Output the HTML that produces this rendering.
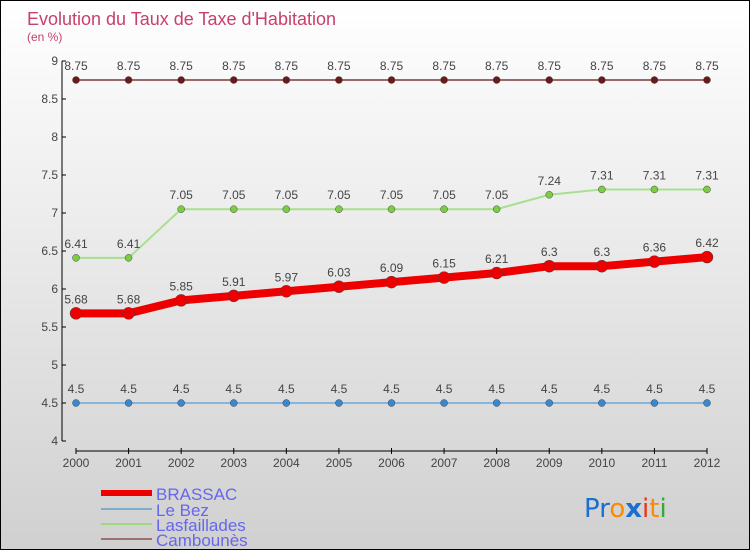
<!DOCTYPE html>
<html><head><meta charset="utf-8"><style>
html,body{margin:0;padding:0}
body{width:750px;height:550px;overflow:hidden;font-family:"Liberation Sans",sans-serif}
#wrap{position:relative;width:748px;height:548px;border:1px solid #000;background:linear-gradient(#ffffff,#d0d0d0)}
svg{position:absolute;left:0;top:0}
</style></head><body>
<div id="wrap">
<svg id="chart" width="750" height="550">
<text x="26" y="24" font-size="18" fill="#c8406a">Evolution du Taux de Taxe d'Habitation</text>
<text x="26" y="40" font-size="12" fill="#c8406a">(en %)</text>
<g id="axes"></g><g id="series"></g>
<g>
<rect x="100" y="489" width="51" height="6" fill="#e00"/>
<text x="155" y="499" font-size="17" fill="#6666ee">BRASSAC</text>
<rect x="100" y="507" width="51" height="2" fill="#7aaed0"/>
<text x="155" y="515" font-size="17" fill="#6666ee">Le Bez</text>
<rect x="100" y="522" width="51" height="2" fill="#a0d880"/>
<text x="155" y="530" font-size="17" fill="#6666ee">Lasfaillades</text>
<rect x="100" y="537" width="51" height="2" fill="#a07070"/>
<text x="155" y="545" font-size="17" fill="#6666ee">Cambounès</text>
</g>
<text x="583" y="516" font-size="26" font-family="DejaVu Sans,sans-serif"><tspan fill="#1a6fd0">Pr</tspan><tspan fill="#ff8800">o</tspan><tspan fill="#1a6fd0" font-weight="bold">x</tspan><tspan fill="#ee3311">i</tspan><tspan fill="#ff8800">t</tspan><tspan fill="#33aa33">i</tspan></text>
</svg>
</div>
<script>
const years=[2000,2001,2002,2003,2004,2005,2006,2007,2008,2009,2010,2011,2012];
const brassac=[5.68,5.68,5.85,5.91,5.97,6.03,6.09,6.15,6.21,6.3,6.3,6.36,6.42];
const leBez=[4.5,4.5,4.5,4.5,4.5,4.5,4.5,4.5,4.5,4.5,4.5,4.5,4.5];
const lasfaillades=[6.41,6.41,7.05,7.05,7.05,7.05,7.05,7.05,7.05,7.24,7.31,7.31,7.31];
const cambounes=[8.75,8.75,8.75,8.75,8.75,8.75,8.75,8.75,8.75,8.75,8.75,8.75,8.75];
const yTicks=[4,4.5,5,5.5,6,6.5,7,7.5,8,8.5,9];
const NS="http://www.w3.org/2000/svg";
const x=i=>75+i*(706-75)/(years.length-1);
const y=v=>440-(v-4)*76;
function mk(tag,attrs,parent,txt){const e=document.createElementNS(NS,tag);for(const k in attrs)e.setAttribute(k,attrs[k]);if(txt!==undefined)e.textContent=txt;parent.appendChild(e);return e;}
const ax=document.getElementById('axes'),sr=document.getElementById('series');
let e=mk('line',{x1:61,y1:60,x2:61,y2:440,stroke:'#000'},ax);


e=mk('line',{x1:75,y1:450,x2:706,y2:450,stroke:'#000'},ax);


yTicks.forEach(t=>{mk('line',{x1:61,y1:y(t),x2:65,y2:y(t),stroke:'#000'},ax);
e=mk('text',{x:57,y:y(t)+4,'font-size':12,fill:'#444','text-anchor':'end'},ax,String(t));

});
years.forEach((yr,i)=>{mk('line',{x1:x(i),y1:447,x2:x(i),y2:453,stroke:'#000'},ax);
e=mk('text',{x:x(i),y:466,'font-size':12,fill:'#444','text-anchor':'middle'},ax,String(yr));

});
function series(vals,color,w,r,dot,name){
 const g=mk('g',{},sr);
 
 
 mk('polyline',{points:vals.map((v,i)=>x(i)+','+y(v)).join(' '),fill:'none',stroke:color,'stroke-width':w,'stroke-linejoin':'round'},g);
 vals.forEach((v,i)=>{const c=mk('circle',{cx:x(i),cy:y(v),r:r,fill:dot,stroke:'#444','stroke-width':0.5},g);
 
 
 const t=mk('text',{x:x(i),y:y(v)-10,'font-size':12,fill:'#444','text-anchor':'middle'},g,String(v));
 
 });
}
series(cambounes,'#7a3a3a',1.5,3.5,'#6a1a1a','cambounes');
series(lasfaillades,'#a8e090',2,3.5,'#7ccc44','lasfaillades');
series(leBez,'#6aa8d8',1.5,3.5,'#3a88cc','le-bez');
series(brassac,'#ee0000',8,6,'#ee0000','brassac');
</script>
</body></html>
